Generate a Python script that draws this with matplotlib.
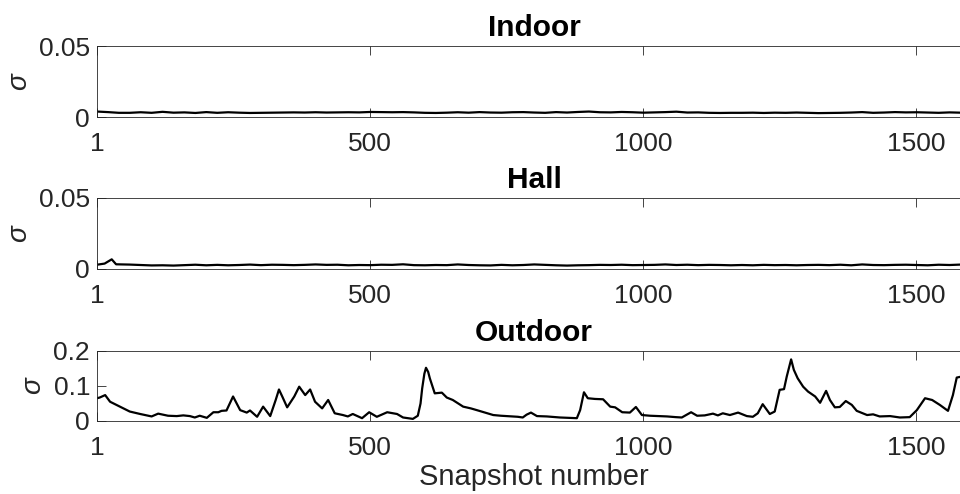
import numpy as np
import matplotlib.pyplot as plt

plt.rcParams['font.family'] = ['Liberation Sans', 'DejaVu Sans']

# snapshot axis
x_ticks = [1, 500, 1000, 1500]
x_max = 1600

# Indoor sigma, read every 20 snapshots (x1e-3)
indoor_x = list(range(1, 1602, 20))
indoor_y = [3.9, 3.5, 3.0, 3.0, 3.4, 3.0, 3.7, 3.1, 3.3, 2.9,
            3.5, 3.0, 3.4, 3.1, 2.9, 3.0, 3.1, 3.2, 3.3, 3.2,
            3.4, 3.2, 3.3, 3.4, 3.3, 3.6, 3.5, 3.4, 3.5, 3.3,
            3.0, 2.9, 3.1, 3.4, 3.1, 3.5, 3.2, 3.1, 3.4, 3.5,
            3.2, 3.0, 3.5, 3.2, 3.6, 3.9, 3.4, 3.3, 3.6, 3.4,
            3.1, 3.3, 3.5, 3.8, 3.2, 3.3, 3.0, 2.9, 3.0, 3.0,
            3.1, 2.9, 3.1, 3.0, 3.2, 3.0, 2.8, 2.9, 3.0, 3.2,
            3.5, 3.0, 3.2, 3.5, 3.3, 3.4, 3.2, 3.0, 3.3, 3.1,
            3.2]

# Hall sigma (x1e-3)
hall_x = [1, 15, 28, 36, 61, 81, 101, 121, 141, 161, 181, 201, 221, 241, 261,
          281, 301, 321, 341, 361, 381, 401, 421, 441, 461, 481, 501, 521,
          541, 561, 581, 601, 621, 641, 661, 681, 701, 721, 741, 761, 781,
          801, 821, 841, 861, 881, 901, 921, 941, 961, 981, 1001, 1021, 1041,
          1061, 1081, 1101, 1121, 1141, 1161, 1181, 1201, 1221, 1241, 1261,
          1281, 1301, 1321, 1341, 1361, 1381, 1401, 1421, 1441, 1461, 1481,
          1501, 1521, 1541, 1561, 1581, 1600]
hall_y = [3.0, 3.8, 6.8, 3.3, 3.1, 2.8, 2.5, 2.6, 2.4, 2.7, 3.0, 2.6, 2.9,
          2.6, 2.8, 3.1, 2.7, 3.0, 2.9, 2.7, 2.9, 3.2, 2.9, 3.0, 2.6, 2.8,
          2.7, 3.0, 2.9, 3.3, 2.7, 2.6, 2.8, 2.7, 3.2, 2.8, 2.6, 2.5, 2.9,
          2.6, 2.8, 3.2, 2.9, 2.6, 2.4, 2.6, 2.7, 2.9, 2.8, 3.0, 2.7, 2.8,
          2.9, 3.2, 2.8, 3.0, 2.7, 2.9, 2.8, 2.6, 2.8, 2.6, 2.9, 2.7, 2.8,
          2.6, 2.8, 2.9, 2.7, 3.0, 2.6, 3.2, 2.8, 2.7, 2.9, 3.0, 2.8, 2.6,
          3.0, 2.8, 3.1, 2.9]

# Outdoor sigma
outdoor_x = [1, 6, 16, 25, 43, 61, 80, 101, 113, 131, 147, 159, 171, 180,
             189, 202, 214, 223, 229, 238, 244, 250, 256, 263, 275, 281, 294,
             305, 318, 328, 334, 340, 349, 362, 371, 382, 391, 400, 413, 424,
             436, 451, 460, 469, 486, 499, 513, 532, 550, 561, 579, 588, 593,
             596, 600, 603, 607, 610, 619, 632, 641, 652, 671, 685, 696, 715,
             726, 740, 751, 771, 780, 787, 795, 806, 824, 848, 865, 879,
             885, 892, 899, 912, 927, 940, 949, 962, 976, 987, 998, 1013, 1030,
             1044, 1060, 1071, 1088, 1099, 1113, 1128, 1137, 1146, 1159, 1174,
             1190, 1201, 1210, 1219, 1232, 1241, 1250, 1258, 1263, 1271, 1276,
             1283, 1293, 1302, 1315, 1324, 1335, 1342, 1351, 1360, 1371, 1382,
             1391, 1410, 1421, 1433, 1452, 1470, 1488, 1501, 1516, 1529, 1543,
             1558, 1567, 1574, 1583, 1600]
outdoor_y = [0.065, 0.067, 0.074, 0.055, 0.041, 0.027, 0.020, 0.013, 0.021,
             0.015, 0.014, 0.016, 0.014, 0.010, 0.015, 0.009, 0.025, 0.025,
             0.029, 0.030, 0.050, 0.070, 0.052, 0.031, 0.024, 0.030, 0.012,
             0.041, 0.014, 0.060, 0.090, 0.070, 0.039, 0.070, 0.098, 0.074,
             0.090, 0.055, 0.036, 0.060, 0.022, 0.017, 0.013, 0.020, 0.008,
             0.025, 0.012, 0.025, 0.020, 0.010, 0.006, 0.015, 0.050, 0.093,
             0.135, 0.152, 0.140, 0.122, 0.079, 0.081, 0.067, 0.060, 0.041,
             0.036, 0.031, 0.022, 0.017, 0.015, 0.014, 0.012, 0.010, 0.018,
             0.024, 0.014, 0.013, 0.010, 0.009, 0.008, 0.031, 0.082, 0.065,
             0.063, 0.062, 0.041, 0.039, 0.025, 0.024, 0.040, 0.017, 0.015,
             0.014, 0.013, 0.011, 0.010, 0.025, 0.015, 0.016, 0.021, 0.016,
             0.022, 0.017, 0.024, 0.014, 0.012, 0.022, 0.048, 0.020, 0.027,
             0.089, 0.091, 0.127, 0.176, 0.146, 0.122, 0.098, 0.084, 0.070,
             0.052, 0.086, 0.060, 0.039, 0.040, 0.057, 0.046, 0.029, 0.017,
             0.019, 0.013, 0.014, 0.010, 0.011, 0.031, 0.065, 0.060, 0.046,
             0.029, 0.074, 0.124, 0.127, 0.127]

panels = [
    ("Indoor", indoor_x, np.array(indoor_y) * 1e-3, 0.05, [0, 0.05], ["0", "0.05"]),
    ("Hall", hall_x, np.array(hall_y) * 1e-3, 0.05, [0, 0.05], ["0", "0.05"]),
    ("Outdoor", outdoor_x, outdoor_y, 0.2, [0, 0.1, 0.2], ["0", "0.1", "0.2"]),
]

gray = '#262626'
fig = plt.figure(figsize=(9.6, 4.94), dpi=100)
bottoms = [0.763, 0.4555, 0.1478]
heights = [0.1437, 0.1437, 0.1417]

for (name, xs, ys, ytop, yt, ytl), b, h in zip(panels, bottoms, heights):
    ax = fig.add_axes([0.101, b, 0.9104, h])
    ax.plot(xs, ys, color='black', lw=1.6)
    ax.set_xlim(1, x_max)
    ax.set_ylim(0, ytop)
    ax.set_xticks(x_ticks)
    ax.set_xticklabels([str(t) for t in x_ticks])
    ax.set_yticks(yt)
    ax.set_yticklabels(ytl)
    ax.tick_params(direction='in', length=6.5, width=0.6, colors=gray,
                   labelsize=19, top=True, right=True)
    ax.tick_params(axis='x', pad=11)
    ax.tick_params(axis='y', pad=5)
    for sp in ax.spines.values():
        sp.set_color(gray)
        sp.set_linewidth(0.6)
    ax.set_title(name, fontsize=21.5, fontweight='bold', pad=7)
    ax.set_ylabel('\u03c3', fontsize=20, style='italic', labelpad=5, color=gray)
    if name == "Outdoor":
        ax.set_xlabel('Snapshot number', fontsize=21, color=gray, labelpad=2)

fig.savefig('out.png', dpi=100)
